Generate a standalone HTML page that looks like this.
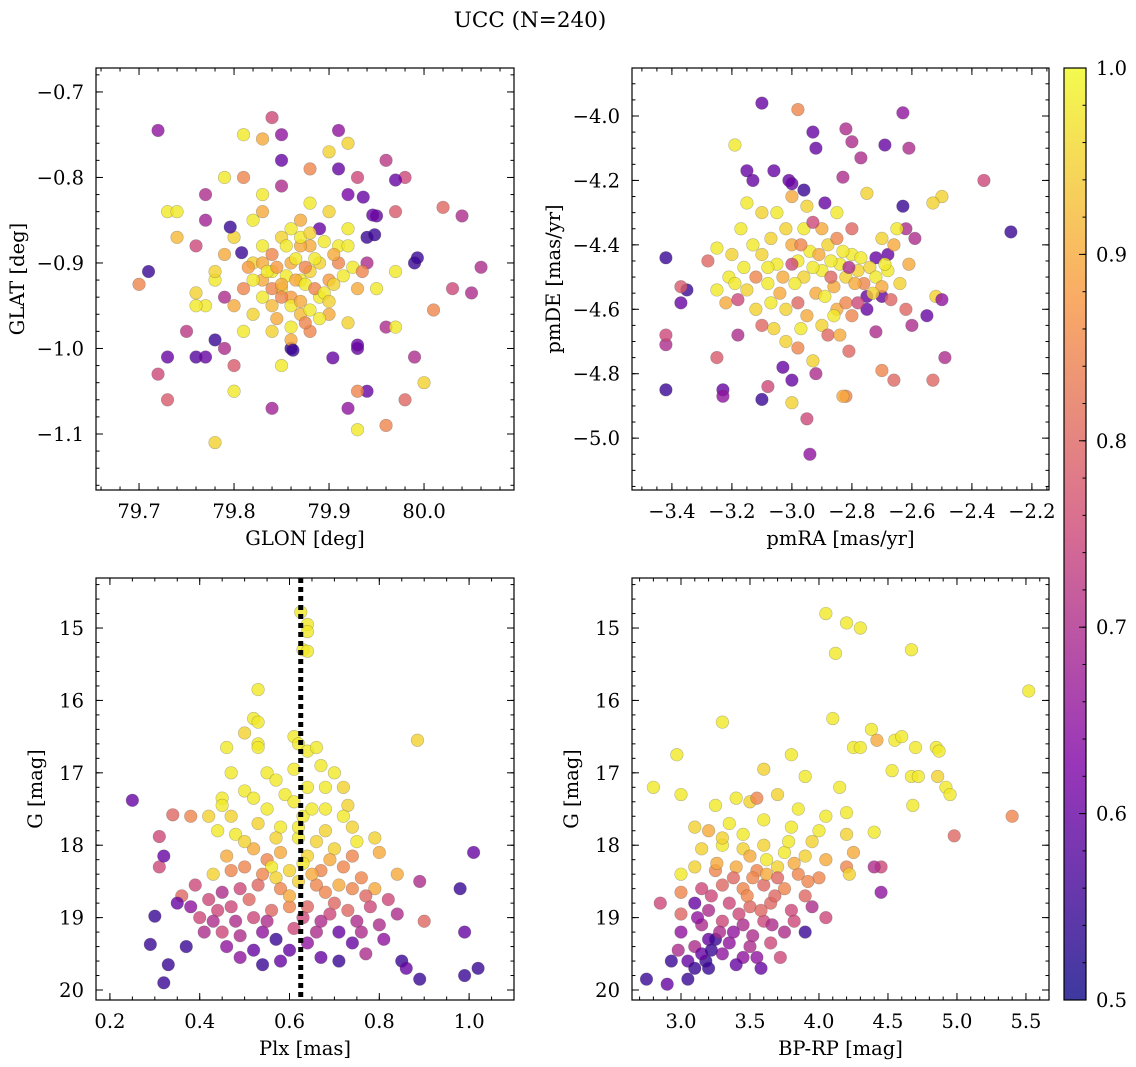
<!DOCTYPE html>
<html><head><meta charset="utf-8"><style>
html,body{margin:0;padding:0;background:#fff;}
svg{display:block;font-family:"DejaVu Serif","Liberation Serif",serif;}
</style></head><body>
<svg id="fig" width="1136" height="1067" viewBox="0 0 1136 1067" xmlns="http://www.w3.org/2000/svg">
<text x="530" y="27" font-size="21.5" text-anchor="middle">UCC (N=240)</text>
</svg>
<script>
// ---- data (x, y, membership probability) ----
const glonGlat = [[79.72,-0.745,0.65],[79.71,-0.91,0.55],[79.73,-1.01,0.6],[79.72,-1.03,0.75],[79.73,-1.06,0.78],[79.70,-0.925,0.85],[79.76,-0.88,0.75],[79.75,-0.98,0.72],[79.76,-1.01,0.58],[79.77,-1.01,0.6],[79.78,-0.99,0.55],[79.77,-0.82,0.7],[79.77,-0.85,0.68],[79.79,-0.94,0.7],[79.79,-1.00,0.7],[79.80,-1.02,0.78],[79.78,-1.11,0.95],[79.80,-1.05,0.98],[79.84,-0.73,0.75],[79.85,-0.75,0.65],[79.85,-0.78,0.6],[79.85,-0.81,0.7],[79.84,-1.07,0.68],[79.86,-1.00,0.55],[79.81,-0.75,0.98],[79.83,-0.755,0.9],[79.91,-0.745,0.65],[79.91,-0.79,0.6],[79.90,-0.77,0.95],[79.92,-0.76,0.95],[79.93,-0.80,0.75],[79.92,-0.82,0.62],[79.95,-0.845,0.6],[79.94,-0.87,0.55],[79.94,-0.90,0.7],[79.96,-0.78,0.72],[79.98,-0.80,0.75],[79.97,-0.84,0.78],[79.99,-0.90,0.55],[80.02,-0.835,0.8],[80.04,-0.845,0.7],[80.06,-0.905,0.7],[80.03,-0.93,0.75],[80.05,-0.935,0.7],[80.01,-0.955,0.85],[79.99,-1.01,0.7],[80.00,-1.04,0.95],[79.98,-1.06,0.8],[79.96,-1.09,0.85],[79.94,-1.05,0.6],[79.93,-1.05,0.85],[79.92,-1.07,0.65],[79.93,-1.095,0.98],[79.93,-1.00,0.6],[79.96,-0.975,0.7],[79.97,-0.975,0.98],[79.95,-0.93,0.98],[79.97,-0.91,0.98],[79.88,-0.79,0.85],[79.89,-0.86,0.6],[79.87,-0.85,0.9],
[79.82,-0.90,0.95],[79.83,-0.92,0.9],[79.84,-0.91,0.98],[79.85,-0.93,0.95],[79.86,-0.90,0.9],[79.87,-0.92,0.98],[79.88,-0.91,0.95],[79.86,-0.94,0.88],[79.84,-0.95,0.92],[79.83,-0.88,0.98],[79.85,-0.87,0.95],[79.88,-0.88,0.9],[79.89,-0.94,0.98],[79.90,-0.92,0.88],[79.81,-0.93,0.85],[79.82,-0.96,0.95],[79.80,-0.95,0.9],[79.87,-0.96,0.92],[79.88,-0.98,0.85],[79.86,-0.99,0.9],[79.84,-0.98,0.95],[79.89,-0.90,0.95],[79.91,-0.88,0.98],[79.90,-0.96,0.9],[79.82,-0.85,0.98],[79.80,-0.87,0.95],[79.79,-0.89,0.9],[79.78,-0.92,0.98],[79.77,-0.95,0.98],[79.76,-0.935,0.95],[79.74,-0.87,0.92],[79.73,-0.84,0.98],[79.74,-0.84,0.98],[79.79,-0.80,0.98],[79.81,-0.80,0.85],[79.83,-0.84,0.9],[79.88,-0.83,0.98],[79.90,-0.84,0.95],[79.92,-0.86,0.98],[79.93,-0.93,0.9],[79.92,-0.97,0.95],[79.91,-0.90,0.85],[79.85,-1.02,0.98],[79.81,-0.98,0.98],[79.76,-0.95,0.98],[79.78,-0.91,0.95],[79.83,-0.82,0.98],[79.86,-0.86,0.98],[79.87,-0.88,0.9],[79.84,-0.93,0.85],
[79.796,-0.858,0.55],[79.808,-0.888,0.55],[79.946,-0.844,0.6],[79.948,-0.867,0.55],[79.993,-0.894,0.55],[79.936,-0.823,0.6],[79.97,-0.803,0.6],[79.862,-1.002,0.55],[79.904,-1.011,0.6],[79.93,-0.996,0.6],
[79.83,-0.90,0.9],[79.835,-0.91,0.98],[79.845,-0.905,0.88],[79.855,-0.915,0.98],[79.865,-0.92,0.9],[79.875,-0.925,0.98],[79.885,-0.93,0.85],[79.895,-0.935,0.98],[79.905,-0.925,0.95],[79.915,-0.915,0.98],[79.85,-0.94,0.85],[79.86,-0.95,0.98],[79.87,-0.945,0.9],[79.88,-0.955,0.98],[79.84,-0.89,0.85],[79.855,-0.88,0.98],[79.87,-0.87,0.98],[79.88,-0.865,0.95],[79.895,-0.875,0.98],[79.905,-0.89,0.9],[79.925,-0.905,0.98],[79.935,-0.91,0.85],[79.92,-0.88,0.98],[79.83,-0.94,0.98],[79.845,-0.965,0.9],[79.86,-0.975,0.98],[79.875,-0.97,0.85],[79.89,-0.965,0.98],[79.90,-0.945,0.95],[79.82,-0.92,0.98],[79.815,-0.905,0.88],[79.865,-0.895,0.98],[79.875,-0.905,0.85],[79.885,-0.895,0.98],[79.85,-0.925,0.9]];
const pmraPmde = [[-3.42,-4.44,0.55],[-3.42,-4.71,0.7],[-3.42,-4.68,0.75],[-3.42,-4.85,0.55],[-3.35,-4.54,0.55],[-3.37,-4.53,0.78],[-3.37,-4.58,0.6],[-3.25,-4.75,0.78],[-3.23,-4.85,0.6],[-3.23,-4.87,0.65],[-3.10,-3.96,0.6],[-3.10,-4.88,0.55],[-2.98,-3.98,0.85],[-2.93,-4.05,0.6],[-2.92,-4.10,0.6],[-2.82,-4.04,0.7],[-2.80,-4.08,0.7],[-2.69,-4.09,0.6],[-2.63,-3.99,0.65],[-2.61,-4.10,0.7],[-2.36,-4.20,0.75],[-2.27,-4.36,0.55],[-2.50,-4.25,0.95],[-2.53,-4.27,0.95],[-2.52,-4.56,0.95],[-2.50,-4.57,0.65],[-2.55,-4.62,0.6],[-2.53,-4.82,0.8],[-2.49,-4.75,0.7],[-2.60,-4.65,0.7],[-2.62,-4.60,0.8],[-2.66,-4.82,0.8],[-2.70,-4.79,0.85],[-2.72,-4.67,0.7],[-2.81,-4.73,0.8],[-2.82,-4.87,0.85],[-2.83,-4.87,0.9],[-2.94,-5.05,0.65],[-2.95,-4.94,0.75],[-2.92,-4.80,0.7],[-3.00,-4.89,0.95],[-3.08,-4.84,0.75],[-3.03,-4.78,0.6],[-3.00,-4.82,0.6],[-3.13,-4.20,0.6],[-3.15,-4.17,0.6],[-3.06,-4.17,0.6],[-3.01,-4.20,0.6],[-3.00,-4.21,0.6],[-2.96,-4.23,0.55],[-3.19,-4.09,0.98],[-2.89,-4.27,0.6],[-2.83,-4.19,0.7],[-2.77,-4.13,0.7],[-2.75,-4.24,0.95],[-2.63,-4.28,0.55],[-2.68,-4.43,0.6],[-2.72,-4.44,0.6],[-2.75,-4.56,0.6],[-2.75,-4.60,0.6],[-2.70,-4.56,0.6],[-2.62,-4.35,0.7],[-2.59,-4.38,0.7],
[-3.25,-4.41,0.98],[-3.20,-4.43,0.95],[-3.21,-4.50,0.98],[-3.19,-4.52,0.98],[-3.15,-4.54,0.95],[-3.25,-4.54,0.98],[-3.22,-4.58,0.9],[-3.16,-4.47,0.98],[-3.10,-4.43,0.95],[-3.08,-4.52,0.98],[-3.07,-4.38,0.95],[-3.05,-4.30,0.98],[-3.02,-4.35,0.95],[-3.00,-4.40,0.9],[-2.98,-4.45,0.98],[-2.96,-4.50,0.95],[-2.94,-4.42,0.98],[-2.92,-4.55,0.9],[-2.90,-4.48,0.98],[-2.88,-4.40,0.95],[-2.86,-4.53,0.9],[-2.84,-4.46,0.98],[-2.82,-4.50,0.95],[-2.80,-4.43,0.98],[-2.78,-4.48,0.95],[-2.76,-4.52,0.85],[-2.74,-4.47,0.95],[-2.72,-4.50,0.98],[-2.70,-4.53,0.9],[-2.68,-4.48,0.98],[-2.66,-4.40,0.9],[-2.64,-4.52,0.95],[-3.04,-4.55,0.9],[-3.02,-4.60,0.95],[-2.98,-4.58,0.8],[-2.95,-4.62,0.9],[-2.90,-4.65,0.95],[-2.85,-4.60,0.9],[-2.80,-4.62,0.85],[-3.12,-4.60,0.95],[-3.10,-4.65,0.8],[-3.06,-4.66,0.95],[-3.02,-4.70,0.95],[-2.98,-4.72,0.85],[-2.93,-4.76,0.95],[-2.90,-4.35,0.9],[-2.85,-4.30,0.98],[-2.80,-4.35,0.8],[-2.95,-4.28,0.95],[-3.00,-4.25,0.9],[-3.10,-4.30,0.95],[-3.15,-4.27,0.98],[-2.70,-4.38,0.95],[-2.65,-4.35,0.98],[-3.18,-4.68,0.7],[-3.18,-4.57,0.75],[-3.28,-4.45,0.8],[-2.88,-4.68,0.8],[-2.82,-4.58,0.85],
[-3.05,-4.46,0.98],[-3.03,-4.50,0.9],[-2.99,-4.52,0.98],[-2.97,-4.40,0.85],[-2.93,-4.47,0.98],[-2.91,-4.43,0.9],[-2.87,-4.45,0.98],[-2.85,-4.38,0.85],[-2.83,-4.42,0.98],[-2.79,-4.52,0.9],[-2.77,-4.44,0.98],[-2.73,-4.55,0.95],[-2.89,-4.56,0.98],[-2.87,-4.50,0.8],[-3.08,-4.47,0.98],[-3.12,-4.50,0.85],[-3.13,-4.40,0.98],[-2.96,-4.35,0.98],[-2.93,-4.33,0.75],[-2.86,-4.62,0.98],[-2.97,-4.66,0.98],[-3.07,-4.58,0.98],[-2.78,-4.58,0.75],[-2.84,-4.68,0.9],[-3.00,-4.46,0.75],[-2.81,-4.47,0.7],[-2.69,-4.46,0.98],[-2.67,-4.57,0.8],[-2.61,-4.46,0.9],[-3.17,-4.35,0.98]];
const plxG = [[0.625,14.78,0.98],[0.64,14.95,0.98],[0.64,15.05,0.98],[0.63,15.3,0.98],[0.64,15.32,0.98],[0.53,15.85,0.98],[0.52,16.25,0.98],[0.53,16.3,0.98],[0.50,16.45,0.95],[0.53,16.6,0.98],[0.53,16.65,0.98],[0.61,16.5,0.98],[0.62,16.6,0.98],[0.64,16.7,0.98],[0.66,16.65,0.98],[0.67,16.9,0.98],[0.61,16.95,0.98],[0.46,16.65,0.98],[0.885,16.55,0.95],[0.47,17.0,0.98],[0.55,17.0,0.98],[0.57,17.1,0.98],[0.50,17.25,0.98],[0.52,17.35,0.98],[0.45,17.35,0.98],[0.45,17.45,0.98],[0.59,17.3,0.98],[0.61,17.4,0.98],[0.64,17.2,0.98],[0.68,17.2,0.98],[0.70,17.0,0.98],[0.72,17.2,0.95],[0.73,17.45,0.95],[0.68,17.5,0.98],[0.63,17.6,0.98],[0.55,17.5,0.98],[0.53,17.7,0.95],[0.47,17.6,0.95],[0.44,17.8,0.98],[0.42,17.6,0.95],[0.48,17.85,0.98],[0.58,17.75,0.98],[0.62,17.9,0.98],[0.66,17.95,0.95],[0.74,17.75,0.95],[0.75,17.95,0.98],[0.70,18.05,0.95],[0.64,18.15,0.95],[0.58,18.1,0.9],[0.55,18.2,0.85],[0.52,18.05,0.9],[0.50,18.3,0.85],[0.47,18.35,0.85],[0.43,18.4,0.95],[0.56,18.3,0.98],[0.60,18.35,0.95],[0.63,18.25,0.98],[0.67,18.35,0.85],[0.72,18.3,0.85],[0.76,18.45,0.85],[0.79,18.6,0.9],[0.71,18.55,0.9],[0.66,18.55,0.85],[0.62,18.5,0.95],[0.57,18.45,0.95],[0.53,18.55,0.8],[0.49,18.6,0.75],[0.45,18.65,0.7],[0.42,18.75,0.75],[0.39,18.55,0.75],[0.36,18.7,0.8],[0.35,18.8,0.6],[0.38,18.85,0.65],[0.40,19.0,0.75],[0.44,18.9,0.75],[0.48,19.05,0.7],[0.52,19.0,0.75],[0.56,18.9,0.8],[0.60,18.85,0.85],[0.64,18.85,0.8],[0.69,18.95,0.75],[0.73,18.9,0.8],[0.78,18.85,0.75],[0.82,18.75,0.75],[0.84,18.95,0.7],[0.80,19.1,0.7],[0.76,19.2,0.7],[0.71,19.2,0.6],[0.66,19.2,0.7],[0.61,19.15,0.75],[0.57,19.3,0.55],[0.54,19.2,0.65],[0.49,19.25,0.7],[0.45,19.2,0.75],[0.41,19.2,0.7],[0.37,19.4,0.55],[0.49,19.55,0.65],[0.54,19.65,0.55],[0.58,19.6,0.6],[0.67,19.55,0.6],[0.71,19.6,0.55],[0.77,19.5,0.7],[0.85,19.6,0.55],[0.89,19.85,0.55],[0.86,19.7,0.6],[0.99,19.8,0.55],[1.02,19.7,0.55],[0.99,19.2,0.6],[0.98,18.6,0.55],[1.01,18.1,0.6],[0.90,19.05,0.8],[0.89,18.5,0.7],[0.30,18.98,0.55],[0.29,19.37,0.55],[0.33,19.65,0.55],[0.32,19.9,0.55],[0.25,17.38,0.6],[0.31,17.88,0.75],[0.31,18.3,0.75],[0.32,18.15,0.6],[0.34,17.58,0.8],[0.38,17.6,0.85],[0.79,17.9,0.95],[0.80,18.1,0.9],[0.84,18.4,0.9],
[0.58,18.6,0.85],[0.60,18.7,0.9],[0.65,18.4,0.9],[0.68,18.65,0.85],[0.70,18.8,0.8],[0.74,18.6,0.85],[0.77,18.7,0.8],[0.54,18.4,0.85],[0.51,18.75,0.8],[0.47,18.85,0.75],[0.55,19.05,0.7],[0.63,19.0,0.75],[0.67,19.05,0.7],[0.75,19.05,0.7],[0.60,19.45,0.6],[0.64,19.35,0.65],[0.52,19.45,0.6],[0.46,19.4,0.65],[0.43,19.05,0.7],[0.81,19.3,0.65],[0.74,19.35,0.6],[0.62,17.75,0.98],[0.65,17.5,0.98],[0.57,17.9,0.95],[0.68,17.8,0.95],[0.72,17.6,0.98],[0.50,17.95,0.95],[0.46,18.15,0.9],[0.69,18.2,0.9],[0.74,18.15,0.85]];
const bprpG = [[4.05,14.8,0.98],[4.2,14.93,0.98],[4.3,15.0,0.98],[4.12,15.35,0.98],[4.67,15.3,0.98],[5.52,15.87,0.98],[3.3,16.3,0.98],[4.1,16.25,0.98],[4.38,16.4,0.98],[4.25,16.65,0.98],[4.3,16.65,0.98],[4.42,16.55,0.9],[4.55,16.55,0.98],[4.6,16.5,0.98],[4.7,16.65,0.98],[4.85,16.65,0.98],[4.87,16.7,0.98],[4.53,16.97,0.98],[4.67,17.05,0.98],[4.72,17.05,0.98],[4.68,17.45,0.98],[4.86,17.05,0.95],[4.92,17.2,0.98],[4.95,17.3,0.98],[5.4,17.6,0.85],[4.98,17.87,0.8],[4.4,17.82,0.98],[4.45,18.3,0.75],[4.4,18.3,0.7],[4.45,18.65,0.65],[2.97,16.75,0.98],[2.8,17.2,0.98],[3.0,17.3,0.98],[3.6,16.95,0.95],[3.8,16.75,0.98],[3.9,17.05,0.98],[4.15,17.2,0.98],[4.2,17.55,0.98],[4.05,17.6,0.98],[3.4,17.35,0.98],[3.25,17.45,0.98],[3.5,17.4,0.95],[3.55,17.35,0.85],[3.7,17.3,0.95],[3.85,17.5,0.98],[3.1,17.75,0.95],[3.2,17.8,0.9],[3.35,17.7,0.98],[3.6,17.65,0.98],[3.8,17.75,0.98],[4.0,17.8,0.98],[4.2,17.85,0.95],[4.25,18.1,0.9],[4.2,18.3,0.85],[4.22,18.4,0.95],[3.15,18.05,0.95],[3.3,18.0,0.98],[3.45,18.05,0.95],[3.6,18.0,0.95],[3.75,18.1,0.98],[3.9,18.15,0.95],[4.05,18.2,0.9],[3.0,18.4,0.98],[3.1,18.3,0.95],[3.25,18.35,0.85],[3.4,18.3,0.9],[3.55,18.35,0.85],[3.7,18.3,0.95],[3.85,18.4,0.85],[4.0,18.45,0.85],[3.0,18.65,0.85],[3.15,18.6,0.75],[3.3,18.55,0.8],[3.45,18.6,0.85],[3.6,18.55,0.8],[3.75,18.6,0.85],[3.9,18.7,0.8],[2.85,18.8,0.75],[3.0,18.95,0.8],[3.1,18.8,0.6],[3.2,18.9,0.7],[3.35,18.8,0.75],[3.5,18.85,0.8],[3.65,18.8,0.8],[3.8,18.9,0.75],[3.95,18.85,0.7],[4.05,19.0,0.75],[3.0,19.2,0.65],[3.15,19.1,0.7],[3.3,19.05,0.75],[3.45,19.1,0.7],[3.6,19.05,0.75],[3.75,19.2,0.7],[3.9,19.2,0.55],[2.98,19.45,0.7],[3.1,19.4,0.7],[3.2,19.3,0.6],[3.35,19.35,0.65],[3.5,19.4,0.7],[3.65,19.35,0.75],[3.72,19.55,0.75],[3.05,19.6,0.6],[3.18,19.6,0.55],[3.3,19.5,0.65],[3.45,19.55,0.65],[3.58,19.7,0.6],[2.93,19.6,0.55],[3.1,19.7,0.55],[2.75,19.85,0.55],[2.9,19.92,0.6],[3.05,19.85,0.55],[3.2,19.7,0.55],[3.25,19.3,0.55],
[3.52,18.45,0.85],[3.62,18.4,0.9],[3.68,18.7,0.8],[3.58,18.9,0.8],[3.42,18.95,0.75],[3.28,19.2,0.7],[3.38,19.2,0.65],[3.52,19.25,0.7],[3.66,19.1,0.7],[3.82,19.05,0.75],[3.48,18.7,0.85],[3.38,18.45,0.8],[3.22,18.7,0.75],[3.12,19.0,0.65],[3.26,18.25,0.9],[3.82,18.25,0.9],[3.92,18.5,0.85],[3.7,18.45,0.8],[3.55,19.55,0.65],[3.4,19.65,0.6],[3.15,19.5,0.6],[3.22,19.45,0.55],[3.62,18.2,0.98],[3.78,17.95,0.98],[3.45,17.85,0.98],[3.95,17.95,0.95],[3.3,17.9,0.95],[3.5,18.15,0.9]];
const plxMedian = 0.625;
const xTicks1 = [79.7,79.8,79.9,80.0], yTicks1 = [-0.7,-0.8,-0.9,-1.0,-1.1];
const xTicks2 = [-3.4,-3.2,-3.0,-2.8,-2.6,-2.4,-2.2], yTicks2 = [-4.0,-4.2,-4.4,-4.6,-4.8,-5.0];
const xTicks3 = [0.2,0.4,0.6,0.8,1.0], yTicksG = [15,16,17,18,19,20];
const xTicks4 = [3.0,3.5,4.0,4.5,5.0,5.5];
const cbTicks = [0.5,0.6,0.7,0.8,0.9,1.0];

const NS="http://www.w3.org/2000/svg";
const svg=document.getElementById('fig');
function mk(tag,attrs,parent){const e=document.createElementNS(NS,tag);for(const k in attrs)e.setAttribute(k,attrs[k]);(parent||svg).appendChild(e);return e;}
const stops=[[0,[13,8,135]],[0.25,[126,3,168]],[0.5,[204,71,120]],[0.75,[248,149,64]],[1,[240,249,33]]];
function plasma(t){t=Math.max(0,Math.min(1,t));for(let i=0;i<stops.length-1;i++){const a=stops[i],b=stops[i+1];if(t<=b[0]){const f=(t-a[0])/(b[0]-a[0]);return 'rgb('+a[1].map((v,j)=>Math.round(v+(b[1][j]-v)*f)).join(',')+')';}}}
const pcol=p=>plasma((p-0.5)/0.5);
function fmt(v,d){return (v<0?'\u2212':'')+Math.abs(v).toFixed(d);}
const FS=19.5;

function panel(o){
  const {x0,x1,y0,y1,xmin,xmax,ymin,ymax,name}=o;
  const sx=v=>x0+(v-xmin)/(xmax-xmin)*(x1-x0);
  const sy=v=>y1-(v-ymin)/(ymax-ymin)*(y1-y0);
  const g=mk('g',{});
  
  
  const pts=mk('g',{},g);
  
  
  o.data.forEach(d=>{
    const c=mk('circle',{cx:sx(d[0]),cy:sy(d[1]),r:6.3,fill:pcol(d[2]),'fill-opacity':0.8,stroke:'#444','stroke-opacity':0.35,'stroke-width':0.6},pts);
    
    
  });
  if(o.vline!==undefined){
    const l=mk('line',{x1:sx(o.vline),x2:sx(o.vline),y1:y0,y2:y1,stroke:'#000','stroke-width':5,'stroke-dasharray':'5,4'},g);
    
    
  }
  mk('rect',{x:x0,y:y0,width:x1-x0,height:y1-y0,fill:'none',stroke:'#000','stroke-width':1.2},g);
  const lo=Math.min(xmin,xmax),hi=Math.max(xmin,xmax);
  for(let v=Math.ceil(lo/o.xmin_)*o.xmin_;v<=hi;v+=o.xmin_){const X=sx(v);mk('line',{x1:X,x2:X,y1:y1,y2:y1-3.5,stroke:'#000'},g);mk('line',{x1:X,x2:X,y1:y0,y2:y0+3.5,stroke:'#000'},g);}
  const ylo=Math.min(ymin,ymax),yhi=Math.max(ymin,ymax);
  for(let v=Math.ceil(ylo/o.ymin_)*o.ymin_;v<=yhi;v+=o.ymin_){const Y=sy(v);mk('line',{x1:x0,x2:x0+3.5,y1:Y,y2:Y,stroke:'#000'},g);mk('line',{x1:x1,x2:x1-3.5,y1:Y,y2:Y,stroke:'#000'},g);}
  o.xt.forEach(v=>{const X=sx(v);mk('line',{x1:X,x2:X,y1:y1,y2:y1-7,stroke:'#000'},g);mk('line',{x1:X,x2:X,y1:y0,y2:y0+7,stroke:'#000'},g);
    const t=mk('text',{x:X,y:y1+28,'font-size':FS,'text-anchor':'middle'},g);t.textContent=fmt(v,o.xd);
    });
  o.yt.forEach(v=>{const Y=sy(v);mk('line',{x1:x0,x2:x0+7,y1:Y,y2:Y,stroke:'#000'},g);mk('line',{x1:x1,x2:x1-7,y1:Y,y2:Y,stroke:'#000'},g);
    const t=mk('text',{x:x0-12,y:Y+7,'font-size':FS,'text-anchor':'end'},g);t.textContent=fmt(v,o.yd);
    });
  const xl=mk('text',{x:(x0+x1)/2,y:y1+55,'font-size':FS,'text-anchor':'middle'},g);xl.textContent=o.xlab;
  
  const yl=mk('text',{x:0,y:0,'font-size':FS,'text-anchor':'middle',transform:`translate(${o.ylx},${(y0+y1)/2}) rotate(-90)`},g);yl.textContent=o.ylab;
  
}
panel({name:'glon-glat-panel',x0:96,x1:514,y0:68,y1:490,xmin:79.6547,xmax:80.0947,ymin:-1.1655,ymax:-0.672,data:glonGlat,xt:xTicks1,yt:yTicks1,xd:1,yd:1,xmin_:0.02,ymin_:0.02,xlab:'GLON [deg]',ylab:'GLAT [deg]',ylx:24});
panel({name:'pm-panel',x0:632,x1:1049,y0:68,y1:490,xmin:-3.533,xmax:-2.143,ymin:-5.161,ymax:-3.851,data:pmraPmde,xt:xTicks2,yt:yTicks2,xd:1,yd:1,xmin_:0.05,ymin_:0.05,xlab:'pmRA [mas/yr]',ylab:'pmDE [mas/yr]',ylx:560});
panel({name:'plx-g-panel',x0:96,x1:514,y0:578,y1:1000,xmin:0.169,xmax:1.1,ymin:20.138,ymax:14.309,data:plxG,xt:xTicks3,yt:yTicksG,xd:1,yd:0,xmin_:0.05,ymin_:0.2,xlab:'Plx [mas]',ylab:'G [mag]',ylx:42,vline:plxMedian});
panel({name:'cmd-panel',x0:632,x1:1049,y0:578,y1:1000,xmin:2.645,xmax:5.667,ymin:20.138,ymax:14.309,data:bprpG,xt:xTicks4,yt:yTicksG,xd:1,yd:0,xmin_:0.1,ymin_:0.2,xlab:'BP-RP [mag]',ylab:'G [mag]',ylx:578});

const cb=mk('g',{});


const defs=mk('defs',{},cb);
const lg=mk('linearGradient',{id:'pl',x1:0,y1:1,x2:0,y2:0},defs);
for(let i=0;i<=20;i++){mk('stop',{offset:i/20,'stop-color':plasma(i/20),'stop-opacity':0.8},lg);}
const cx0=1064,cx1=1086,cy0=68,cy1=1000;
mk('rect',{x:cx0,y:cy0,width:cx1-cx0,height:cy1-cy0,fill:'url(#pl)',stroke:'#000','stroke-width':1.2},cb);
const cyv=v=>cy1-(v-0.5)/0.5*(cy1-cy0);
for(let v=0.5;v<=1.0001;v+=0.02){const Y=cyv(v);mk('line',{x1:cx1,x2:cx1-3.5,y1:Y,y2:Y,stroke:'#000'},cb);}
cbTicks.forEach(v=>{const Y=cyv(v);mk('line',{x1:cx1,x2:cx1-7,y1:Y,y2:Y,stroke:'#000'},cb);
  const t=mk('text',{x:cx1+10,y:Y+7,'font-size':FS},cb);t.textContent=v.toFixed(1);
  });
</script>
</body></html>
